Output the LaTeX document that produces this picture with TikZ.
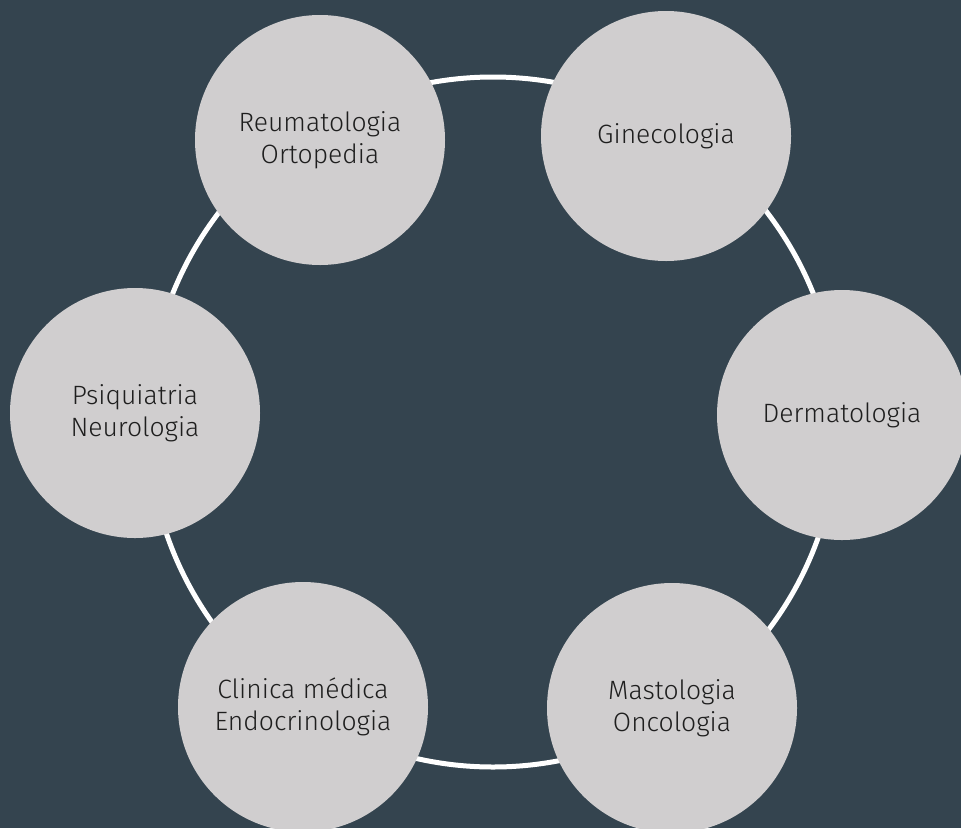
\documentclass[tikz,border=0pt]{standalone}
\usepackage{fontspec}
\setmainfont{Fira Sans}[UprightFont=* Light]
\usetikzlibrary{positioning}
\definecolor{slate}{HTML}{34444F}
\definecolor{disc}{HTML}{D0CECF}
\definecolor{ink}{HTML}{1E1E1E}

\begin{document}
\begin{tikzpicture}[
    x=1pt, y=-1pt,
    field/.style={circle, fill=disc, draw=none, minimum size=250pt,
      inner sep=0pt, align=center, text=ink,
      font=\fontsize{26.5}{31.5}\selectfont},
    ring/.style={draw=white, line width=5pt}
  ]

  % page and background
  \fill[slate] (0,0) rectangle (961,828);
  \useasboundingbox (0,0) rectangle (961,828);

  % the ring behind the specialties
  \coordinate (hub) at (493,422);
  \draw[ring] (hub) circle[radius=345pt];

  % the six specialties round the ring
  \node[field] (reuma)  at (320,140) {Reumatologia\\Ortopedia};
  \node[field] (gineco) at (666,136) {Ginecologia};
  \node[field] (derma)  at (842,415) {Dermatologia};
  \node[field] (masto)  at (672,708) {Mastologia\\Oncologia};
  \node[field] (clinic) at (303,707) {Clinica médica\\Endocrinologia};
  \node[field] (psiq)   at (135,413) {Psiquiatria\\Neurologia};

\end{tikzpicture}
\end{document}
